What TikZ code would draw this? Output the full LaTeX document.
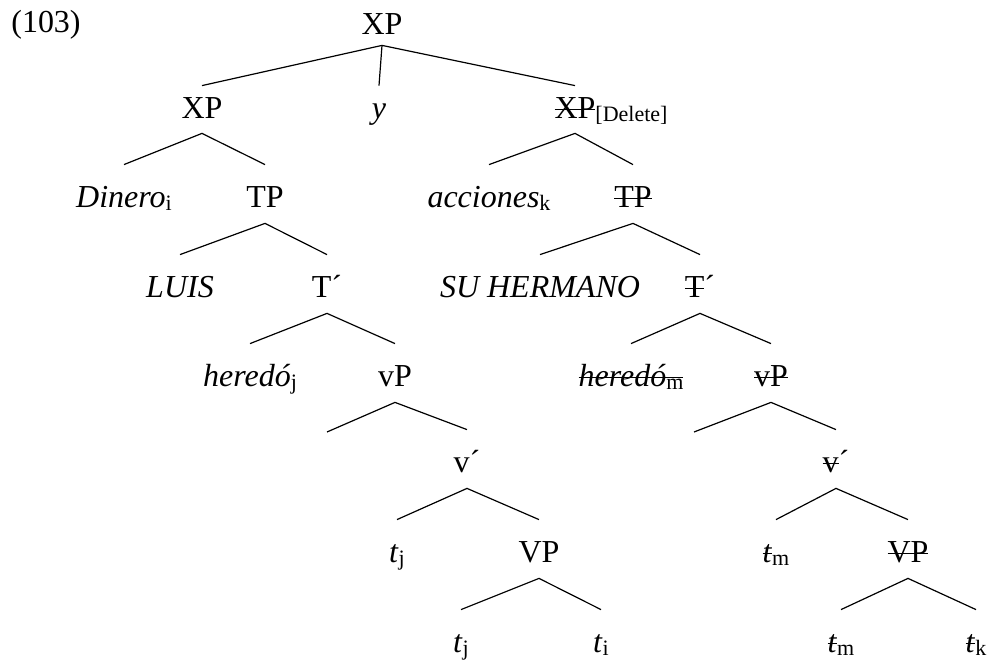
\documentclass[tikz,border=0pt]{standalone}
\usepackage{fontspec}
\setmainfont{Liberation Serif}
\newsavebox\strikebox
\newcommand\struck[1]{\sbox\strikebox{#1}\rlap{\rule[0.27em]{\wd\strikebox}{0.6pt}}\usebox\strikebox}
\newcommand\idx[1]{\raisebox{-1.5pt}{\fontsize{11}{13}\selectfont\upshape #1}}
\begin{document}
\begin{tikzpicture}[x=0.5pt,y=-0.5pt,
  cat/.style={anchor=base, inner sep=0pt, text height=21.5pt, text depth=7.5pt, font=\fontsize{16}{19}\selectfont},
  rootcat/.style={cat, text height=12pt, text depth=5pt},
  levelone/.style={cat, text height=16.5pt, text depth=7pt},
  branch/.style={line width=0.6pt}]
\useasboundingbox (0,0) rectangle (992,662);
\node[cat, text height=12pt] (ex) at (46,33) {(103)};
\node[rootcat] (root) at (382,35) {XP};
\node[levelone] (xpL) at (202,119) {XP};
\node[levelone] (conj) at (379,119) {\textit{y}};
\node[levelone] (xpR) at (575,119) {\struck{XP}\rlap{\idx{[Delete]}}};
\node[cat] (dinero) at (124,208) {\textit{Dinero}\idx{i}};
\node[cat] (tpL) at (265,208) {TP};
\node[cat] (acciones) at (489,208) {\textit{acciones}\idx{k}};
\node[cat] (tpR) at (633,208) {\struck{TP}};
\node[cat] (luis) at (180,298) {\textit{LUIS}};
\node[cat] (tbL) at (327,298) {T´};
\node[cat] (hermano) at (540,298) {\textit{SU HERMANO}};
\node[cat] (tbR) at (700,298) {\struck{T}´};
\node[cat] (heredoL) at (250,387) {\textit{heredó}\idx{j}};
\node[cat] (vpL) at (395,387) {vP};
\node[cat] (heredoR) at (631,387) {\struck{\textit{heredó}\idx{m}}};
\node[cat] (vpR) at (771,387) {\struck{vP}};
\coordinate (specL) at (327,432);
\coordinate (specR) at (694,432);
\node[cat] (vbL) at (467,473) {v´};
\node[cat] (vbR) at (836,473) {\struck{v}´};
\node[cat] (tjA) at (397,563) {\textit{t}\idx{j}};
\node[cat] (bigvpL) at (539,563) {VP};
\node[cat] (tmA) at (776,563) {\struck{\textit{t}}\idx{m}};
\node[cat] (bigvpR) at (908,563) {\struck{VP}};
\node[cat] (tjB) at (461,653) {\textit{t}\idx{j}};
\node[cat] (ti) at (601,653) {\textit{t}\idx{i}};
\node[cat] (tmB) at (841,653) {\struck{\textit{t}}\idx{m}};
\node[cat] (tk) at (976,653) {\struck{\textit{t}}\idx{k}};
% top
\draw[branch] (xpL.north) -- (root.south) -- (xpR.north);
\draw[branch] (root.south) -- (conj.north);
% left conjunct
\draw[branch] (dinero.north) -- (xpL.south) -- (tpL.north);
\draw[branch] (luis.north) -- (tpL.south) -- (tbL.north);
\draw[branch] (heredoL.north) -- (tbL.south) -- (vpL.north);
\draw[branch] (specL) -- (vpL.south) -- (vbL.north);
\draw[branch] (tjA.north) -- (vbL.south) -- (bigvpL.north);
\draw[branch] (tjB.north) -- (bigvpL.south) -- (ti.north);
% right conjunct
\draw[branch] (acciones.north) -- (xpR.south) -- (tpR.north);
\draw[branch] (hermano.north) -- (tpR.south) -- (tbR.north);
\draw[branch] (heredoR.north) -- (tbR.south) -- (vpR.north);
\draw[branch] (specR) -- (vpR.south) -- (vbR.north);
\draw[branch] (tmA.north) -- (vbR.south) -- (bigvpR.north);
\draw[branch] (tmB.north) -- (bigvpR.south) -- (tk.north);
\end{tikzpicture}
\end{document}
